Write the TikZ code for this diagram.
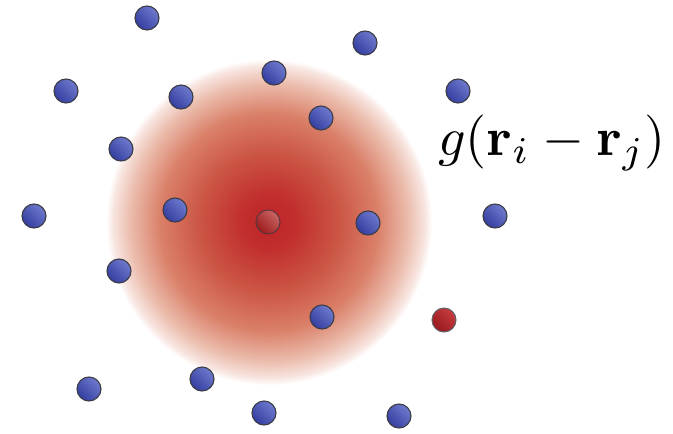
\documentclass[tikz,border=0pt]{standalone}
\usepackage{amsmath}
\definecolor{glowA}{RGB}{190,36,40}
\definecolor{glowB}{RGB}{193,46,45}
\definecolor{glowC}{RGB}{203,85,68}
\definecolor{glowD}{RGB}{218,128,105}
\definecolor{glowE}{RGB}{235,188,172}
\definecolor{glowF}{RGB}{248,230,225}
\pgfdeclareradialshading{glow}{\pgfpoint{0bp}{0bp}}{color(0bp)=(glowA); color(4bp)=(glowB); color(10.6bp)=(glowC); color(16.7bp)=(glowD); color(21.3bp)=(glowE); color(24bp)=(glowF); color(25bp)=(white); color(50bp)=(white)}
\definecolor{blueL}{RGB}{110,122,205}
\definecolor{blueD}{RGB}{52,62,160}
\definecolor{redL}{RGB}{200,60,62}
\definecolor{redD}{RGB}{150,25,30}
\definecolor{rimc}{RGB}{60,60,70}
\tikzset{
  bdot/.style={circle, minimum size=24pt, inner sep=0pt, draw=rimc, line width=1.1pt,
    left color=blueL, right color=blueD, shading angle=-45},
  rdot/.style={circle, minimum size=24pt, inner sep=0pt, draw=rimc!80, line width=1pt,
    left color=redL, right color=redD, shading angle=-45},
  cdot/.style={circle, minimum size=24pt, inner sep=0pt, draw=rimc!90!red, line width=1.1pt,
    left color=red!55!black!90!white, right color=red!45!white!80!black, shading angle=135, opacity=0.85},
  lbltext/.style={scale=5.4, inner sep=0pt},
}
\begin{document}
\begin{tikzpicture}[x=1pt,y=-1pt]
\useasboundingbox (0,0) rectangle (673,434);
\shade[shading=glow] (269,222) circle (163);
\node[bdot] (d1) at (147,18) {};
\node[bdot] (d2) at (365,43) {};
\node[bdot] (d3) at (66,91) {};
\node[bdot] (d4) at (274,73) {};
\node[bdot] (d5) at (181,97) {};
\node[bdot] (d6) at (458,91) {};
\node[bdot] (d7) at (321,118) {};
\node[bdot] (d8) at (121,149) {};
\node[bdot] (d9) at (34,216) {};
\node[bdot] (d10) at (175,210) {};
\node[cdot] (c) at (268,222) {};
\node[bdot] (d12) at (368,223) {};
\node[bdot] (d13) at (495,216) {};
\node[bdot] (d14) at (119,271) {};
\node[bdot] (d15) at (322,317) {};
\node[rdot] (r) at (444,320) {};
\node[bdot] (d17) at (89,389) {};
\node[bdot] (d18) at (202,379) {};
\node[bdot] (d19) at (264,413) {};
\node[bdot] (d20) at (399,416) {};
\node[lbltext] (lbl) at (552,143) {$g(\mathbf{r}_i-\mathbf{r}_j)$};
\end{tikzpicture}
\end{document}
